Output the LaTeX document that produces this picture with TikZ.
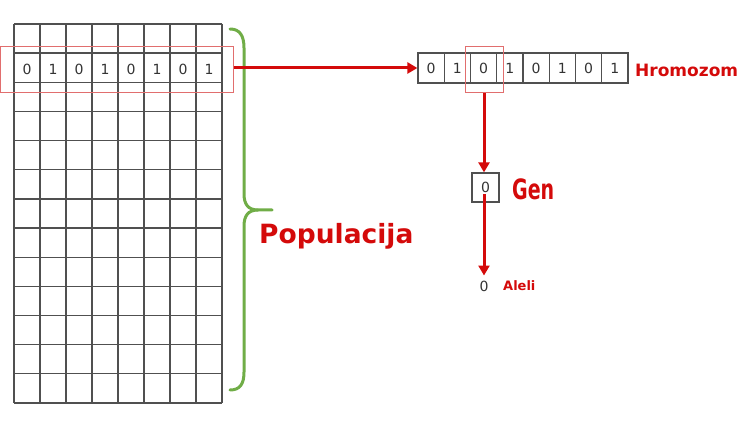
\documentclass[tikz,border=0pt]{standalone}
\usepackage{fontspec}
\setmainfont{DejaVu Sans}
\usetikzlibrary{arrows.meta,calc}
\definecolor{redc}{RGB}{212,10,10}
\definecolor{greenc}{RGB}{112,173,71}
\definecolor{gridc}{RGB}{80,80,80}
\definecolor{hlc}{RGB}{225,110,110}
\tikzset{
  gridline/.style={draw=gridc,line width=1.3pt},
  digit/.style={font=\fontsize{14}{14}\selectfont,text=black!80,inner sep=0pt},
  cell/.style={draw=gridc,line width=1.3pt,minimum width=26.25pt,minimum height=30pt,inner sep=0pt,font=\fontsize{14}{14}\selectfont,text=black!80},
  hlbox/.style={draw=hlc,line width=1pt,inner sep=0pt},
  arr/.style={draw=redc,line width=3pt,-{Triangle[length=10pt,width=11pt]}},
  lbl/.style={text=redc,inner sep=0pt,anchor=west},
}
\begin{document}
\begin{tikzpicture}[x=1pt,y=-1pt]
\useasboundingbox (0,0) rectangle (750,422);
% population grid
\foreach \i in {0,...,8} {\draw[gridline] ({14+26*\i},24) -- ({14+26*\i},403);}
\foreach \j in {0,...,13} {\draw[gridline] (14,{24+29.15*\j}) -- (222,{24+29.15*\j});}
\foreach \d [count=\i from 0] in {0,1,0,1,0,1,0,1} {
  \node[digit] (p\i) at ({27+26*\i},69) {\d};
}
\node[hlbox,minimum width=233pt,minimum height=46pt] (poprow) at (116.5,70) {};
% brace
\coordinate (btop) at (230,29);
\coordinate (btip) at (272,210);
\coordinate (bbot) at (230,390);
\draw[greenc,line width=3pt,line cap=round]
  (btop) .. controls (240,29) and (244,36) .. (244,48) -- (244,194)
  .. controls (244,204) and (248,210) .. (258,210) -- (btip);
\draw[greenc,line width=3pt,line cap=round]
  (258,210) .. controls (248,210) and (244,216) .. (244,226) -- (244,372)
  .. controls (244,384) and (240,390) .. (bbot);
\node[lbl,font=\fontsize{26.5}{26.5}\selectfont\bfseries] (pop) at (259,236) {Populacija};
% chromosome
\foreach \d [count=\i from 1] in {0,1,0,1,0,1,0,1} {
  \node[cell] (c\i) at ({418+26.25*(\i-0.5)},68) {\d};
}
\node[hlbox,minimum width=38pt,minimum height=46pt] (hl) at (484,70) {};
\node[lbl,font=\fontsize{17}{17}\selectfont\bfseries] (hrom) at (635,70) {Hromozom};
\draw[arr] (poprow.east |- c1.west) -- (c1.west);
% gene
\node[draw=gridc,line width=1.3pt,minimum width=27pt,minimum height=29pt,inner sep=0pt,font=\fontsize{14}{14}\selectfont,text=black!80] (gen) at (485.5,187.5) {0};
\node[lbl,font=\fontsize{28}{28}\selectfont\bfseries] (genl) at (512,189) {\scalebox{0.68}[1]{Gen}};
\draw[arr] (hl.south) -- (hl.south |- gen.north);
% allele
\node[digit] (al) at (484,286) {0};
\node[lbl,font=\fontsize{13}{13}\selectfont\bfseries] (all) at (503,286) {Aleli};
\draw[arr,shorten >=5pt] ([yshift=-7pt]gen.center -| al) -- (al.north);
\end{tikzpicture}
\end{document}
